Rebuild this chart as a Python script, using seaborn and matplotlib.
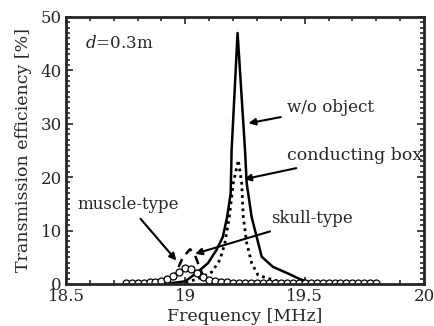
import numpy as np
import pandas as pd
import matplotlib.pyplot as plt
import seaborn as sns
from matplotlib.ticker import MultipleLocator

# w/o object (solid)
f_free = [18.75, 18.85, 18.95, 19.0, 19.048, 19.095, 19.131, 19.157, 19.175, 19.19,
          19.194, 19.219, 19.25, 19.257, 19.278, 19.299, 19.32, 19.367, 19.438,
          19.48, 19.52, 19.6, 19.8]
v_free = [0.1, 0.1, 0.2, 0.5, 2.1, 3.9, 6.4, 8.8, 12.5, 17.0,
          25.1, 47.0, 25.1, 18.9, 12.5, 8.8, 5.1, 3.2, 1.8,
          0.9, 0.3, 0.2, 0.1]

# conducting box (dotted)
f_box = [18.75, 18.9, 19.0, 19.06, 19.11, 19.145, 19.166, 19.184, 19.201, 19.222,
         19.236, 19.243, 19.257, 19.278, 19.304, 19.34, 19.4, 19.5, 19.8]
v_box = [0.0, 0.0, 0.2, 1.1, 2.2, 4.5, 7.7, 12.5, 18.9, 23.2,
         18.9, 12.5, 7.7, 3.9, 1.7, 1.1, 0.4, 0.1, 0.0]

# skull-type (dashed)
f_skull = [18.75, 18.85, 18.92, 18.96, 18.99, 19.02, 19.04, 19.06, 19.08, 19.12, 19.2, 19.4, 19.8]
v_skull = [0.0, 0.1, 0.5, 2.0, 5.0, 6.5, 5.5, 3.0, 1.0, 0.3, 0.1, 0.0, 0.0]

# muscle-type (open circles)
f_muscle = [18.75, 18.775, 18.8, 18.825, 18.85, 18.875, 18.9, 18.925, 18.95, 18.975,
            19.0, 19.025, 19.05, 19.075, 19.1, 19.125, 19.15, 19.175, 19.2, 19.225,
            19.25, 19.275, 19.3, 19.325, 19.35, 19.375, 19.4, 19.425, 19.45, 19.475,
            19.5, 19.525, 19.55, 19.575, 19.6, 19.625, 19.65, 19.675, 19.7, 19.725,
            19.75, 19.775, 19.8]
v_muscle = [0.1, 0.1, 0.2, 0.2, 0.3, 0.4, 0.6, 0.9, 1.4, 2.2,
            3.0, 2.8, 2.0, 1.3, 0.8, 0.5, 0.4, 0.3, 0.2, 0.2,
            0.2, 0.2, 0.2, 0.1, 0.1, 0.1, 0.1, 0.1, 0.1, 0.1,
            0.1, 0.1, 0.1, 0.1, 0.1, 0.1, 0.1, 0.1, 0.1, 0.1,
            0.1, 0.1, 0.1]

sns.set_style("ticks")
plt.rcParams['font.family'] = ['DejaVu Serif']
plt.rcParams['mathtext.fontset'] = 'dejavuserif'

fig = plt.figure(figsize=(4.34, 3.26), dpi=100)
ax = fig.add_axes([0.152, 0.129, 0.825, 0.819])

sns.lineplot(x=f_free, y=v_free, ax=ax, color='black', lw=1.8)
sns.lineplot(x=f_box, y=v_box, ax=ax, color='black', lw=2.0, linestyle=(0, (1.0, 1.4)))
sns.lineplot(x=f_skull, y=v_skull, ax=ax, color='black', lw=1.8, linestyle=(0, (3.5, 2.5)))
sns.lineplot(x=f_muscle, y=v_muscle, ax=ax, color='black', lw=1.0)
ax.plot(f_muscle, v_muscle, 'o', mfc='white', mec='black', ms=5, mew=0.9)

ax.set_xlim(18.5, 20)
ax.set_ylim(0, 50)
ax.xaxis.set_major_locator(MultipleLocator(0.5))
ax.xaxis.set_minor_locator(MultipleLocator(0.1))
ax.yaxis.set_major_locator(MultipleLocator(10))
ax.yaxis.set_minor_locator(MultipleLocator(1))
ax.set_xticks([18.5, 19, 19.5, 20])
ax.set_xticklabels(['18.5', '19', '19.5', '20'])
ax.tick_params(which='both', direction='in', top=True, right=True, labelsize=12, width=1.2)
ax.tick_params(which='major', length=5)
ax.tick_params(which='minor', length=3)
ax.tick_params(axis='x', pad=3)
ax.tick_params(axis='y', pad=3)
for s in ax.spines.values():
    s.set_linewidth(2)

ax.set_xlabel('Frequency [MHz]', fontsize=12.5, labelpad=2)
ax.set_ylabel('Transmission efficiency [%]', fontsize=12.5, labelpad=6)

ax.text(18.58, 45, r'$d$=0.3m', fontsize=12, va='center')

arr = dict(arrowstyle='-|>', color='black', lw=1.5, mutation_scale=10)
ax.annotate('w/o object', xy=(19.253, 30.0), xytext=(19.425, 33.0),
            fontsize=12, va='center', arrowprops=arr)
ax.annotate('conducting box', xy=(19.235, 19.5), xytext=(19.425, 24.0),
            fontsize=12.5, va='center', arrowprops=arr)
ax.annotate('skull-type', xy=(19.03, 5.5), xytext=(19.36, 12.2),
            fontsize=12, va='center', arrowprops=arr)
ax.annotate('muscle-type', xy=(18.97, 4.0), xytext=(18.55, 14.8),
            fontsize=12, va='center', arrowprops=arr)

fig.savefig('out.png', dpi=100)
